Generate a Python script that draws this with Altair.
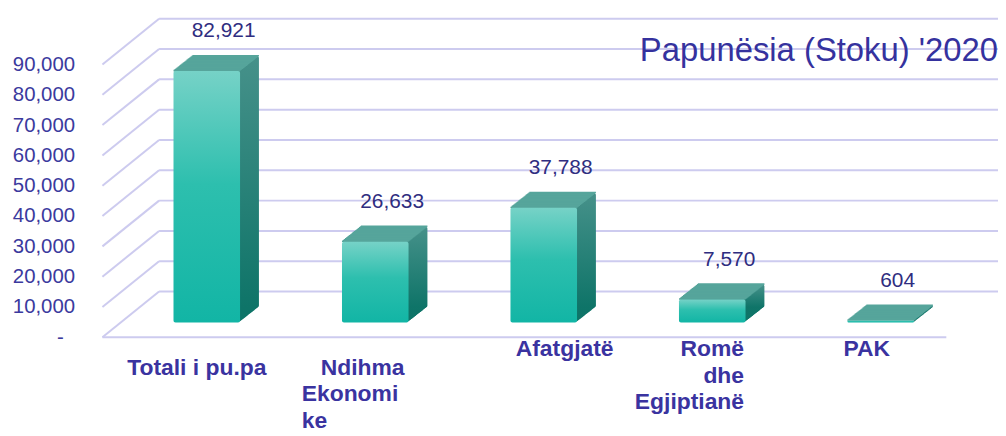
import json
import altair as alt
import pandas as pd

# ---------------- data ----------------
categories = ["Totali i pu.pa", "Ndihma Ekonomike", "Afatgjatë", "Romë dhe Egjiptianë", "PAK"]
values = [82921, 26633, 37788, 7570, 604]
label_lines = [
    ["Totali i pu.pa"],
    ["\u200b\u00a0\u00a0\u00a0Ndihma", "Ekonomi", "ke"],
    ["Afatgjatë"],
    ["Romë", "dhe", "Egjiptianë"],
    ["PAK"],
]
y_ticks = [0, 10000, 20000, 30000, 40000, 50000, 60000, 70000, 80000, 90000]
chart_title = ["Papunësia (Stoku) '2020"]

df = pd.DataFrame({"category": categories, "value": values})
grid_df = pd.DataFrame({"v": y_ticks})
title_df = pd.DataFrame({"text": chart_title})

# ---------------- layout / style ----------------
W, H = 884, 305
PAD = {"left": 97, "top": 10, "right": 15, "bottom": 113}
DX, DY, N = 19, 15, 19
FONT = "Liberation Sans"
GRID = "#cdcbef"
AXIS_TXT = "#3b3a9e"
CAT_TXT = "#3a33a0"
VAL_TXT = "#2f2d80"
TITLE_TXT = "#35329e"

# per-category label placement: (align, horizontal offset, vertical padding)
label_place = {
    "Totali i pu.pa": ("center", -10, 34),
    "Ndihma Ekonomike": ("left", -74, 34),
    "Afatgjatë": ("center", 21, 15),
    "Romë dhe Egjiptianë": ("right", 32, 15),
    "PAK": ("center", -14, 15),
}


def by_cat(pairs, default):
    expr = ""
    for cat, val in pairs:
        expr += f"datum.value === {json.dumps(cat, ensure_ascii=False)} ? {json.dumps(val, ensure_ascii=False)} : "
    return expr + json.dumps(default, ensure_ascii=False)


label_expr = by_cat(list(zip(categories, label_lines)), "")
label_expr = label_expr[: -len('""')] + "datum.label"
align_expr = by_cat([(c, label_place[c][0]) for c in categories], "center")
offset_expr = by_cat([(c, label_place[c][1]) for c in categories], 0)
padding_expr = by_cat([(c, label_place[c][2]) for c in categories], 15)

x_axis = alt.Axis(
    title=None, labelExpr=label_expr,
    labelAlign={"expr": align_expr}, labelOffset={"expr": offset_expr},
    labelPadding={"expr": padding_expr},
    labelBaseline="top", labelLineHeight=27, labelFontSize=23,
    labelFontWeight="bold", labelFont=FONT, labelColor=CAT_TXT, labelAngle=0,
    ticks=False, tickSize=0, domain=False, grid=False, labelOverlap=False,
    labelLimit=400,
)
y_axis = alt.Axis(
    title=None, values=y_ticks,
    labelExpr="datum.value == 0 ? '-\u00a0\u00a0\u200b' : format(datum.value, ',')",
    labelOffset=15, labelPadding=30, ticks=False, tickSize=0, domain=False,
    grid=False, labelFontSize=20.5, labelFont=FONT, labelColor=AXIS_TXT,
    labelOverlap=False,
)

x_scale = alt.Scale(domain=categories, paddingInner=0.605, paddingOuter=0.41)
y_scale = alt.Scale(domain=[0, 100000], nice=False, zero=True)

x_enc = alt.X("category:N", sort=categories, scale=x_scale, axis=x_axis)
y_enc = alt.Y("value:Q", scale=y_scale, axis=y_axis, stack=None)

front_grad = alt.Gradient(
    gradient="linear", x1=0, x2=0, y1=0, y2=1,
    stops=[alt.GradientStop(color="#76d2c7", offset=0),
           alt.GradientStop(color="#2dbfae", offset=0.45),
           alt.GradientStop(color="#12b5a5", offset=1)],
)
side_grad = alt.Gradient(
    gradient="linear", x1=0, x2=0, y1=0, y2=1,
    stops=[alt.GradientStop(color="#46918a", offset=0),
           alt.GradientStop(color="#0e7468", offset=1)],
)
TOP_COLOR = "#56a59b"

# ---------------- gridlines (perspective walls) ----------------
grid_y = alt.Y("v:Q", scale=y_scale, axis=y_axis)
diag = alt.Chart(grid_df).mark_rule(color=GRID, strokeWidth=2, yOffset=15, y2Offset=-31).encode(
    x=alt.value(-2), x2=alt.value(55), y=grid_y, y2="v:Q")
back = alt.Chart(grid_df).mark_rule(color=GRID, strokeWidth=2, yOffset=-31).encode(
    x=alt.value(55), x2=alt.value(W + 40), y=grid_y)
floor = alt.Chart(grid_df).transform_filter("datum.v == 0").mark_rule(
    color=GRID, strokeWidth=2, yOffset=15).encode(x=alt.value(-2), x2=alt.value(847), y=grid_y)

# ---------------- 3D bars ----------------
side_layers = []
for k in range(1, N + 1):
    off = -k * DY / N
    side_layers.append(
        alt.Chart(df).mark_bar(color=side_grad, xOffset=k * DX / N, yOffset=off, y2Offset=off,
                               cornerRadius=2)
        .encode(x=x_enc, y=y_enc, y2=alt.datum(0))
    )
top_layers = []
for k in range(0, N + 1):
    off = -k * DY / N
    top_layers.append(
        alt.Chart(df).mark_bar(color=TOP_COLOR, xOffset=k * DX / N, yOffset=off - 1.2, y2Offset=off + 0.4)
        .encode(x=x_enc, y=y_enc, y2=alt.Y2("value:Q"))
    )
front = alt.Chart(df).mark_bar(color=front_grad, cornerRadius=2).encode(
    x=x_enc, y=y_enc, y2=alt.datum(0))

value_labels = alt.Chart(df).mark_text(
    dx=17, dy=-34, baseline="alphabetic", fontSize=21, font=FONT, color=VAL_TXT
).encode(x=x_enc, y=y_enc, text=alt.Text("value:Q", format=","))

title = alt.Chart(title_df).mark_text(
    align="right", baseline="alphabetic", fontSize=33, font=FONT, color=TITLE_TXT
).encode(x=alt.value(899), y=alt.value(42), text="text:N")

chart = alt.layer(
    diag, back, floor, *side_layers, *top_layers, front, value_labels, title
).properties(
    width=W, height=H, padding=PAD, autosize=alt.AutoSizeParams(type="none")
).configure_view(stroke=None)

chart.save("out.html", embed_options={"renderer": "svg", "actions": False})
